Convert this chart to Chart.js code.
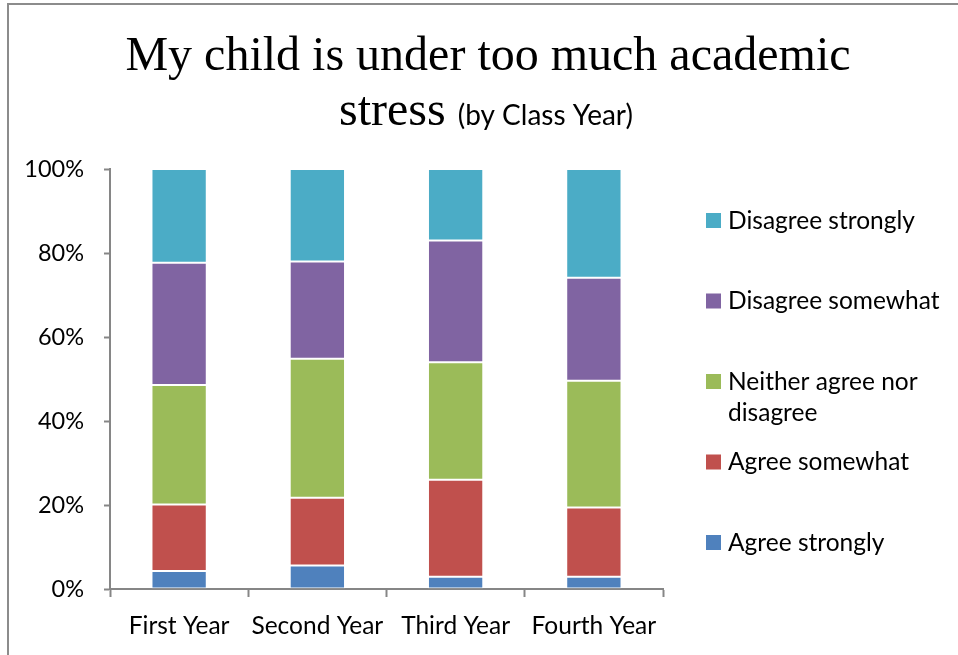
<!DOCTYPE html>
<html>
<head>
<meta charset="utf-8">
<script src="https://cdn.jsdelivr.net/npm/chart.js@4.4.0/dist/chart.umd.min.js"></script>
<style>
body{margin:0;background:#fff;}
#wrap{position:relative;width:958px;height:655px;overflow:hidden;}
#frame{position:absolute;left:7px;top:3px;width:970px;height:670px;border-top:2px solid #8c8c8c;border-left:2px solid #8c8c8c;}
canvas{position:absolute;left:0;top:0;}
</style>
</head>
<body>
<div id="wrap"><div id="frame"></div><canvas id="stress" width="958" height="655"></canvas></div>
<script>
const classYears = ['First Year', 'Second Year', 'Third Year', 'Fourth Year'];
const agreeStrongly = [4.3, 5.6, 2.9, 2.9];
const agreeSomewhat = [15.8, 16.1, 23.1, 16.5];
const neitherAgree = [28.5, 33.1, 28.0, 30.2];
const disagreeSomewhat = [29.1, 23.2, 29.0, 24.5];
const disagreeStrongly = [22.3, 22.0, 17.0, 25.9];
const yTicks = [0, 20, 40, 60, 80, 100];

const sans = 'Lato';
const axisColor = '#868686';

// title has two fonts on line 2, so draw it by hand
const titlePlugin = {
    id: 'twoFontTitle',
    afterDraw(chart) {
        const ctx = chart.ctx;
        ctx.save();
        ctx.fillStyle = '#000';
        ctx.textBaseline = 'alphabetic';
        ctx.textAlign = 'center';
        ctx.font = '48px "Liberation Serif"';
        ctx.fillText('My child is under too much academic', 488, 70);

        ctx.textAlign = 'left';
        const part1 = 'stress ';
        const part2 = '(by Class Year)';
        ctx.font = '48px "Liberation Serif"';
        const w1 = ctx.measureText(part1).width;
        ctx.font = '28px ' + sans;
        const w2 = ctx.measureText(part2).width;
        let x = 486 - (w1 + w2) / 2;
        ctx.font = '48px "Liberation Serif"';
        ctx.fillText(part1, x, 125);
        ctx.font = '28px ' + sans;
        ctx.fillText(part2, x + w1, 125);
        ctx.restore();
    }
};

// legend on the right, reversed, with wrapped labels
const legendPlugin = {
    id: 'sideLegend',
    afterDraw(chart) {
        const ctx = chart.ctx;
        const sets = chart.data.datasets.slice().reverse();
        ctx.save();
        ctx.font = '24.5px ' + sans;
        ctx.textBaseline = 'middle';
        ctx.textAlign = 'left';
        sets.forEach((ds, i) => {
            const cy = 220 + i * 80.5;
            ctx.fillStyle = ds.backgroundColor;
            ctx.fillRect(706, cy - 7, 15, 15);
            ctx.fillStyle = '#000';
            // wrap words
            const words = ds.label.split(' ');
            let lines = [];
            let cur = '';
            words.forEach(w => {
                const test = cur ? cur + ' ' + w : w;
                if (ctx.measureText(test).width > 230 && cur) {
                    lines.push(cur);
                    cur = w;
                } else {
                    cur = test;
                }
            });
            lines.push(cur);
            lines.forEach((ln, j) => ctx.fillText(ln, 728, cy + 1 + j * 31));
        });
        ctx.restore();
    }
};

function makeSet(label, data, color) {
    return {
        label: label,
        data: data,
        backgroundColor: color,
        borderColor: 'rgba(255,255,255,0.3)',
        borderWidth: 1,
        borderSkipped: false,
        barPercentage: 0.4,
        categoryPercentage: 1.0
    };
}

const ctx = document.getElementById('stress').getContext('2d');
const chart = new Chart(ctx, {
    type: 'bar',
    data: {
        labels: classYears,
        datasets: [
            makeSet('Agree strongly', agreeStrongly, '#4F81BD'),
            makeSet('Agree somewhat', agreeSomewhat, '#C0504D'),
            makeSet('Neither agree nor disagree', neitherAgree, '#9BBB59'),
            makeSet('Disagree somewhat', disagreeSomewhat, '#8064A2'),
            makeSet('Disagree strongly', disagreeStrongly, '#4BACC6')
        ]
    },
    options: {
        responsive: false,
        animation: false,
        layout: {
            padding: {left: 0, right: 295, top: 169, bottom: 0}
        },
        scales: {
            x: {
                stacked: true,
                afterFit(scale) { scale.height = 66; },
                grid: {
                    display: true,
                    drawOnChartArea: false,
                    drawTicks: true,
                    tickLength: 8,
                    tickWidth: 2,
                    color: axisColor
                },
                border: {display: true, color: axisColor, width: 2},
                ticks: {
                    color: '#000',
                    padding: 14,
                    font: {family: sans, size: 24.5}
                }
            },
            y: {
                stacked: true,
                min: 0,
                max: 100,
                afterFit(scale) { scale.width = 110; },
                afterBuildTicks(scale) {
                    scale.ticks = yTicks.map(v => ({value: v}));
                },
                grid: {
                    display: true,
                    drawOnChartArea: false,
                    drawTicks: true,
                    tickLength: 6,
                    tickWidth: 2,
                    color: axisColor
                },
                border: {display: true, color: axisColor, width: 2},
                ticks: {
                    color: '#000',
                    padding: 20,
                    font: {family: sans, size: 23.5},
                    callback: v => v + '%'
                }
            }
        },
        plugins: {
            legend: {display: false},
            title: {display: false},
            tooltip: {enabled: false}
        }
    },
    plugins: [titlePlugin, legendPlugin]
});
</script>
</body>
</html>
